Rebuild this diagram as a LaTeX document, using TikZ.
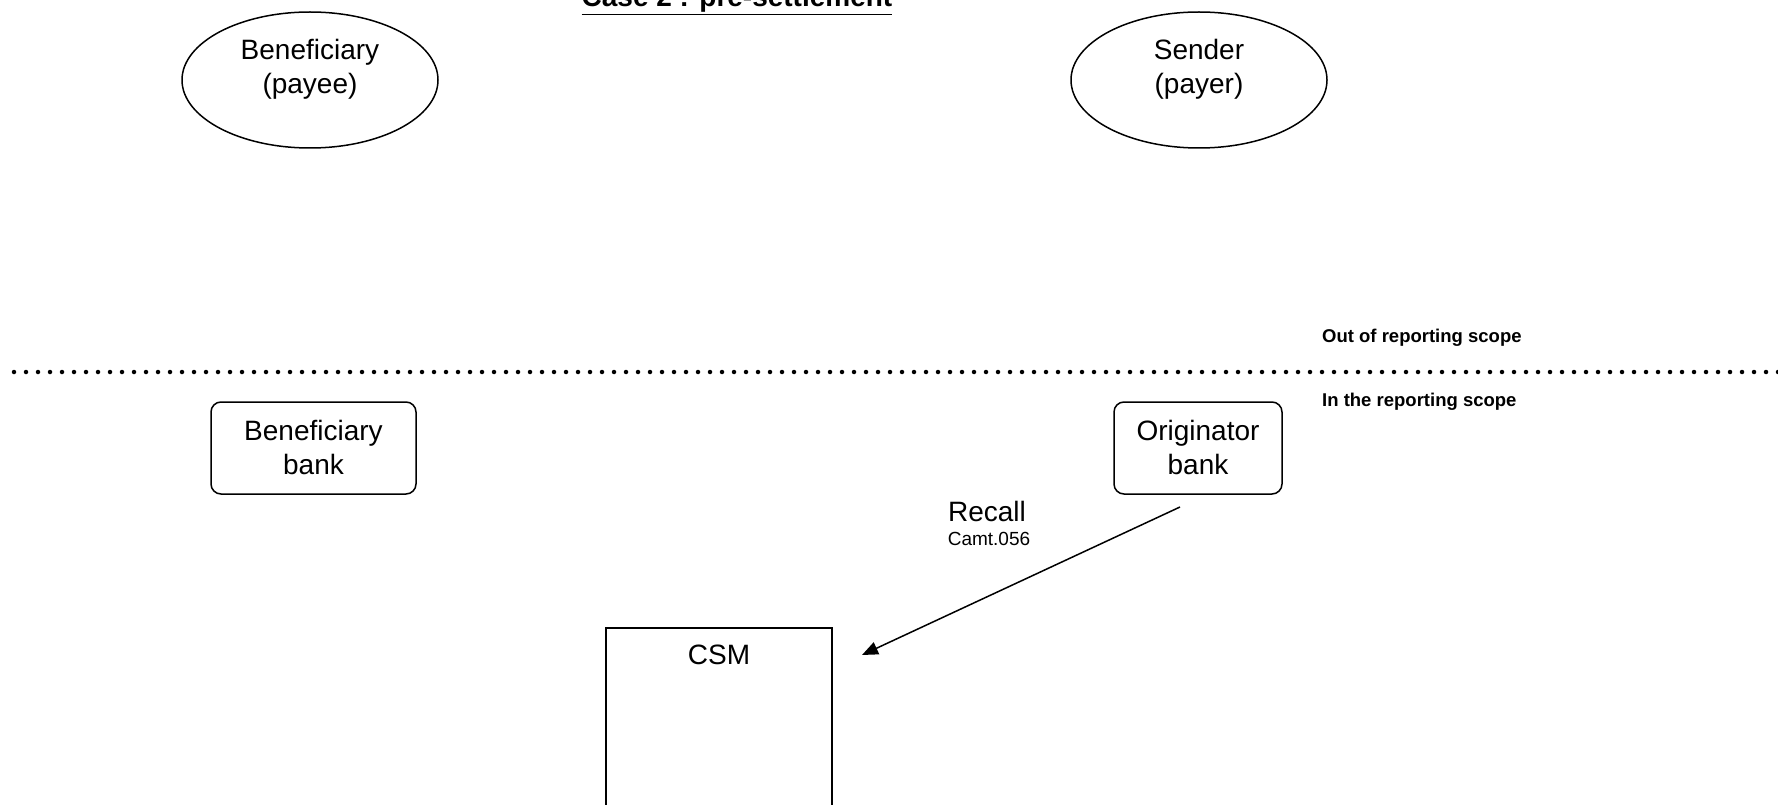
\documentclass[tikz,border=0pt]{standalone}
\usepackage{fontspec}
\setmainfont{Liberation Sans}
\usetikzlibrary{arrows.meta,shapes.geometric}
\begin{document}
\begin{tikzpicture}[x=1pt,y=-1pt,
  shp/.style={draw,line width=1.5pt,inner sep=0pt},
  party/.style={shp,ellipse,minimum width=256pt,minimum height=136pt},
  bankbox/.style={shp,rounded corners=10pt,minimum height=92pt},
  lbl/.style={font=\fontsize{28}{34}\selectfont,align=center,inner sep=0pt},
  small/.style={font=\bfseries\fontsize{18.5}{22}\selectfont,inner sep=0pt,anchor=west},
  dotline/.style={line width=4.5pt,line cap=round,dash pattern=on 0pt off 12pt}]
\useasboundingbox (0,0) rectangle (1778,805);
% title
\node[font=\bfseries\fontsize{28}{34}\selectfont,inner sep=0pt,anchor=base] (title) at (737,7) {\underline{Case 2 : pre-settlement}};
% parties
\node[party] (ben) at (310,80) {};
\node[lbl] (bent) at (310,69) {Beneficiary\\(payee)};
\node[party] (snd) at (1199,80) {};
\node[lbl] (sndt) at (1199,69) {Sender\\(payer)};
% scope line
\coordinate (dl) at (14,372);
\coordinate (dr) at (1778,372);
\draw[dotline] (dl) -- (dr);
\node[small] (out) at (1322,338) {Out of reporting scope};
\node[small] (in) at (1322,402) {In the reporting scope};
% banks
\node[bankbox,minimum width=205pt] (bb) at (313.5,448) {};
\node[lbl] (bbt) at (313.5,447) {Beneficiary\\bank};
\node[bankbox,minimum width=168pt] (ob) at (1198,448) {};
\node[lbl] (obt) at (1198,447) {Originator\\bank};
% CSM
\node[shp,minimum width=226pt,minimum height=202pt] (csm) at (719,729) {};
\node[lbl,anchor=base] (csmt) at (719,664) {CSM};
% recall arrow
\coordinate (rs) at (1180,507);
\coordinate (re) at (862,655);
\draw[line width=1.5pt,-{Triangle[length=16pt,width=13pt]}] (rs) -- (re);
\node[lbl,anchor=base] (rec) at (987,521) {Recall};
\node[font=\fontsize{19}{22}\selectfont,inner sep=0pt,anchor=base] (camt) at (989,545) {Camt.056};
\end{tikzpicture}
\end{document}
